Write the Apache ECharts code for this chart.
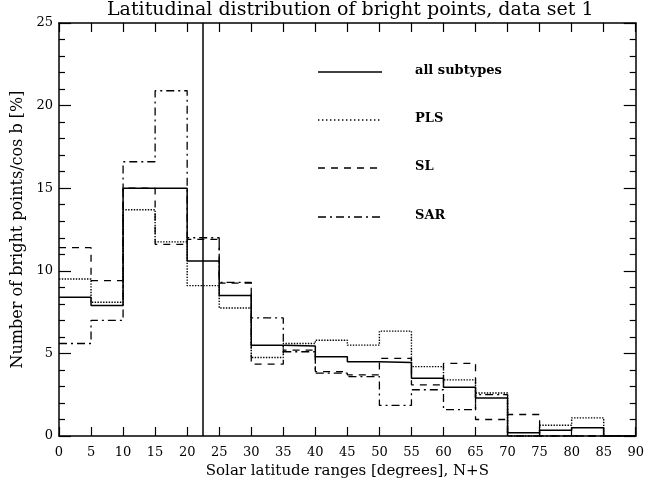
<!DOCTYPE html>
<html>
<head>
<meta charset="utf-8">
<script src="https://cdn.jsdelivr.net/npm/echarts@6/dist/echarts.min.js"></script>
<style>
  html, body { margin: 0; padding: 0; background: #fff; }
  #chart { width: 647px; height: 487px; }
</style>
</head>
<body>
<div id="chart"></div>
<script>
// bin left edges, 5 degree bins (last bin 85-90 is empty)
var binStarts = [0, 5, 10, 15, 20, 25, 30, 35, 40, 45, 50, 55, 60, 65, 70, 75, 80, 85];
var binWidth = 5;

// percentages
var allSubtypes = [8.4, 7.9, 15.0, 15.0, 10.6, 8.5, 5.5, 5.45, 4.8, 4.5, 4.45, 3.5, 2.95, 2.3, 0.2, 0.35, 0.5, 0];
var pls = [9.5, 8.1, 13.7, 11.75, 9.1, 7.75, 4.75, 5.6, 5.8, 5.5, 6.35, 4.2, 3.4, 2.6, 0, 0.65, 1.1, 0];
var sl = [11.4, 9.4, 15.0, 11.6, 11.9, 9.25, 4.35, 5.2, 3.9, 3.7, 4.7, 3.1, 4.4, 1.0, 1.3, 0, 0, 0];
var sar = [5.6, 7.0, 16.6, 20.9, 12.0, 9.3, 7.15, 5.1, 3.8, 3.6, 1.85, 2.8, 1.6, 2.5, 0, 0, 0, 0];

var legendNames = ["all subtypes", "PLS", "SL", "SAR"];
var xTicks = [0, 90, 5];
var yTicks = [0, 25, 5];
var cutLatitude = 22.5;

var FONT = "DejaVu Serif";

// histogram -> step points (left edge of each bin + closing edge)
function steps(vals) {
  var pts = binStarts.map(function (x, i) { return [x, vals[i]]; });
  pts.push([binStarts[binStarts.length - 1] + binWidth, vals[vals.length - 1]]);
  return pts;
}

var chart = echarts.init(document.getElementById("chart"));

var styles = [
  { type: "solid", width: 1.5 },
  { type: "dotted", width: 1.4 },
  { type: [7, 6], width: 1.3 },
  { type: [8, 4, 2, 4], width: 1.3 }
];
var datasets = [allSubtypes, pls, sl, sar];

var series = datasets.map(function (d, i) {
  return {
    name: legendNames[i],
    type: "line",
    step: "end",
    data: steps(d),
    showSymbol: false,
    symbol: "none",
    silent: true,
    z: 3,
    lineStyle: { color: "#000", width: styles[i].width, type: styles[i].type }
  };
});

// vertical marker at 22.5 deg
series[0].markLine = {
  silent: true,
  symbol: "none",
  label: { show: false },
  lineStyle: { color: "#000", width: 1.5, type: "solid" },
  data: [{ xAxis: cutLatitude }]
};

// legend drawn as lines + text, positioned like the original
var legendY = [72, 120, 168, 217];
var graphic = [];
legendNames.forEach(function (n, i) {
  graphic.push({
    type: "line",
    shape: { x1: 318, y1: legendY[i], x2: 382, y2: legendY[i] },
    style: { stroke: "#000", lineWidth: styles[i].width, lineDash: styles[i].type === "solid" ? null : (styles[i].type === "dotted" ? [1.4, 2.6] : styles[i].type) }
  });
  graphic.push({
    type: "text",
    left: 415,
    top: legendY[i] - 8,
    style: { text: n, font: "bold 13px " + FONT, fill: "#000" }
  });
});

var tickLine = { color: "#000", width: 1.2 };
var boxLine = { show: true, onZero: false, lineStyle: { color: "#000", width: 1.5 } };

var option = {
  animation: false,
  backgroundColor: "#fff",
  title: {
    text: "Latitudinal distribution of bright points, data set 1",
    left: 102,
    top: -4,
    textStyle: { fontFamily: FONT, fontSize: 19, fontWeight: "normal", color: "#000" }
  },
  grid: { left: 59, right: 8, top: 23, bottom: 51 },
  xAxis: [
    {
      type: "value", min: xTicks[0], max: xTicks[1], interval: xTicks[2],
      name: "Solar latitude ranges [degrees], N+S",
      nameLocation: "middle", nameGap: 24,
      nameTextStyle: { fontFamily: FONT, fontSize: 15, color: "#000" },
      axisLine: boxLine,
      axisTick: { inside: true, length: 9, lineStyle: tickLine },
      axisLabel: { margin: 10, fontFamily: FONT, fontSize: 13, color: "#000" },
      splitLine: { show: false }
    },
    {
      type: "value", position: "top", min: xTicks[0], max: xTicks[1], interval: xTicks[2],
      axisLine: boxLine,
      axisTick: { inside: true, length: 9, lineStyle: tickLine },
      axisLabel: { show: false },
      splitLine: { show: false }
    }
  ],
  yAxis: [
    {
      type: "value", min: yTicks[0], max: yTicks[1], interval: yTicks[2],
      name: "Number of bright points/cos b [%]",
      nameLocation: "middle", nameGap: 31, nameRotate: 90,
      nameTextStyle: { fontFamily: FONT, fontSize: 16, color: "#000" },
      axisLine: boxLine,
      axisTick: { inside: true, length: 12, lineStyle: tickLine },
      minorTick: { show: true, splitNumber: 5, length: 6, lineStyle: tickLine },
      axisLabel: { margin: 6, fontFamily: FONT, fontSize: 13, color: "#000" },
      splitLine: { show: false }
    },
    {
      type: "value", position: "right", min: yTicks[0], max: yTicks[1], interval: yTicks[2],
      axisLine: boxLine,
      axisTick: { inside: true, length: 12, lineStyle: tickLine },
      minorTick: { show: true, splitNumber: 5, length: 6, lineStyle: tickLine },
      axisLabel: { show: false },
      splitLine: { show: false }
    }
  ],
  graphic: graphic,
  series: series
};

chart.setOption(option);
</script>
</body>
</html>
